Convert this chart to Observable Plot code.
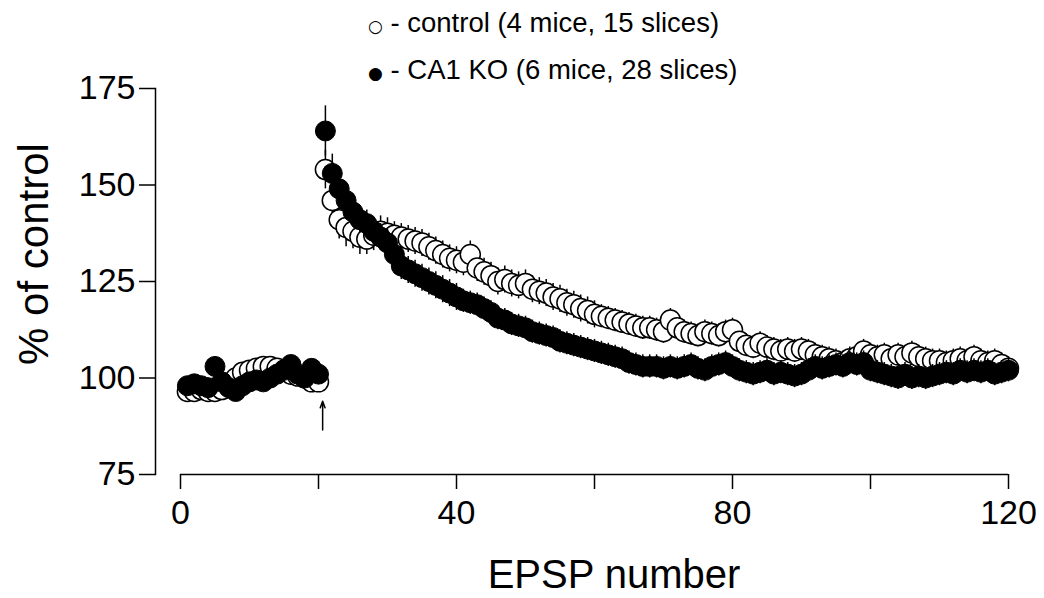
<!DOCTYPE html>
<html><head><meta charset="utf-8">
<script src="https://cdn.jsdelivr.net/npm/d3@7"></script>
<script src="https://cdn.jsdelivr.net/npm/@observablehq/plot@0.6"></script>
<style>body{margin:0;background:#fff}#chart{width:1044px;height:598px}</style>
</head><body><div id="chart"></div>
<script>
const epsp = [1,2,3,4,5,6,7,8,9,10,11,12,13,14,15,16,17,18,19,20,
  21,22,23,24,25,26,27,28,29,30,31,32,33,34,35,36,37,38,39,40,
  41,42,43,44,45,46,47,48,49,50,51,52,53,54,55,56,57,58,59,60,
  61,62,63,64,65,66,67,68,69,70,71,72,73,74,75,76,77,78,79,80,
  81,82,83,84,85,86,87,88,89,90,91,92,93,94,95,96,97,98,99,100,
  101,102,103,104,105,106,107,108,109,110,111,112,113,114,115,116,117,118,119,120];

const controlMean = [96.5,96.5,97,96.5,96.5,97,98,100,101.5,102,102.5,103,103,102.5,102,101,100.5,100,99,99,
  154,146,141,139,138,136.5,136,137,138,137.5,
  137,136.5,136,135.5,135,134,133,132,131,130.5,
  130,132,128.5,127.5,126.5,125,125.5,124.5,124,124.5,
  123,122.5,122,121,120.5,119.5,119,118,117.5,116.5,
  116,115.5,115,114.5,114,113.5,113,113,112.5,112,
  115,113,112,111.5,111,112,111.5,111,112,112.5,
  109.5,108.5,108,109,108,107.5,107,107.5,107,107.5,
  107,106,105.5,105,104.5,104,105,105.5,107,106,
  105.5,106,105,106,105.5,106.5,105.5,105,104.5,104.5,
  104,104.5,105,104.5,105.5,104.5,104,104.5,103.5,102.5];

const controlSem = [1.5,1.5,1.5,1.5,1.5,1.5,1.5,2,2,2,2,2,2,2,2,2,1.5,1.5,1.5,1.5,
  5,5,5,5,4.5,4.5,4,4,4,4,
  3.5,3.5,3.5,3.5,3.5,3.5,3.5,3.5,3.5,3.5,
  3.5,3.5,3.5,3.5,3.5,3.5,3.5,3.5,3.5,3.5,
  3.5,3.5,3.5,3.5,3.5,3.5,3.5,3.5,3.5,3.5,
  3,3,3,3,3,3,3,3,3,3,
  3,3,3,3,3,3,3,3,3,3,
  3,3,3,3,3,3,3,3,3,3,
  3,3,3,3,3,3,3,3,3,3,
  3,3,3,3,3,3,3,3,3,3,
  3,3,3,3,3,3,3,3,3,3];

const koMean = [98,98.5,98,97.5,103,99,97.5,96.5,98,99,99.5,99,100,101,102,103.5,101,100,102.5,101,
  164,153,149,146,143,141,140,138,136.5,135,
  132,129,128,127,126,125,124,123,122,121,
  120,119.5,119,118,117,115.5,115,114,113.5,113,
  112,111.5,111,110.5,109.5,109,108.5,108,107.5,107,
  106.5,106,105.5,105,104,103.5,103,103,103,102.5,
  103,102.5,103,103.5,102.5,102,103,103.5,104,103,
  102,101.5,101,101.5,102,101,101.5,101,100.5,101,
  102,103,102.5,103,103.5,103,104,103.5,104,102,
  101.5,101,100.5,100,101,100,100.5,100,100.5,101,
  101.5,101,102,101.5,102,101.5,102,101,101.5,102];

const koSem = [1.5,1.5,1.5,1.5,1.5,1.5,1.5,1.5,1.5,1.5,1.5,1.5,1.5,1.5,1.5,1.5,1.5,1.5,1.5,1.5,
  6.5,5,4.5,4,3.5,3.5,3.5,3.5,3.5,3.5,
  3.5,3.5,3.5,3.5,3.5,3.5,3.5,3.5,3.5,3.5,
  3,3,3,3,3,3,3,3,3,3,
  3,3,3,3,3,3,3,3,3,3,
  3,3,3,3,3,3,3,3,3,3,
  3,3,3,3,3,3,3,3,3,3,
  3,3,3,3,3,3,3,3,3,3,
  3,3,3,3,3,3,3,3,3,3,
  3,3,3,3,3,3,3,3,3,3,
  3,3,3,3,3,3,3,3,3,3];

const xTicks = [0,20,40,60,80,100,120];
const xTickLabels = ["0","","40","","80","","120"];
const yTicks = [75,100,125,150,175];
const seriesSymbols = ["○","●"];
const seriesLabels = [" - control (4 mice, 15 slices)", " - CA1 KO (6 mice, 28 slices)"];
const xTitle = "EPSP number";
const yTitle = "% of control";
const stimX = [20.6];
const stimY = [86.5, 94];

const control = epsp.map((x, i) => ({x, mean: controlMean[i], sem: controlSem[i]}));
const ko = epsp.map((x, i) => ({x, mean: koMean[i], sem: koSem[i]}));
const arrowData = [{x: stimX[0], y1: stimY[0], y2: stimY[1]}];

const font = "Liberation Sans, Arial, Helvetica, sans-serif";

const plot = Plot.plot({
  width: 1044, height: 598,
  marginLeft: 155, marginRight: 36, marginTop: 88, marginBottom: 124,
  x: {domain: [xTicks[0], xTicks[xTicks.length - 1]], range: [180, 1008]},
  y: {domain: [yTicks[0], yTicks[yTicks.length - 1]], range: [474, 88]},
  style: {fontFamily: font, background: "white", color: "black", overflow: "visible"},
  marks: [
    Plot.frame({anchor: "left", stroke: "black", strokeWidth: 1.5}),
    Plot.axisY(yTicks, {anchor: "left", tickSize: 16, tickPadding: 4, fontSize: 34, label: null, strokeWidth: 1.5, strokeOpacity: 1}),
    Plot.axisX(xTicks, {anchor: "bottom", tickSize: 15, tickPadding: 10, fontSize: 34, label: null,
      tickFormat: d => xTickLabels[xTicks.indexOf(d)], strokeWidth: 1.5, strokeOpacity: 1}),
    Plot.ruleY([yTicks[0]], {x1: xTicks[0], x2: xTicks[xTicks.length - 1], stroke: "black", strokeWidth: 1.5}),
    Plot.ruleX(control, {x: "x", y1: d => d.mean - d.sem, y2: d => d.mean + d.sem, stroke: "black", strokeWidth: 1.5}),
    Plot.dot(control, {x: "x", y: "mean", r: 10, fill: "white", stroke: "black", strokeWidth: 1.5}),
    Plot.ruleX(ko, {x: "x", y1: d => d.mean - d.sem, y2: d => d.mean + d.sem, stroke: "black", strokeWidth: 1.5}),
    Plot.dot(ko, {x: "x", y: "mean", r: 10, fill: "black", stroke: "black", strokeWidth: 1}),
    Plot.arrow(arrowData, {x1: "x", x2: "x", y1: "y1", y2: "y2", headLength: 7, headAngle: 40, strokeWidth: 1.5, stroke: "black"})
  ]
});

const svg = d3.select(plot);
// axis titles
svg.append("text").attr("x", 614).attr("y", 588).attr("text-anchor", "middle")
  .attr("font-family", font).attr("font-size", 40).attr("fill", "black").text(xTitle);
svg.append("text").attr("transform", "translate(48,254) rotate(-90)").attr("text-anchor", "middle")
  .attr("font-family", font).attr("font-size", 42).attr("fill", "black").text(yTitle);
// legend
const legendBaselines = [32, 79];
seriesLabels.forEach((lab, i) => {
  const t = svg.append("text").attr("x", 368).attr("y", legendBaselines[i]).attr("text-anchor", "start")
    .attr("font-family", font).attr("font-size", 27.5).attr("fill", "black");
  t.append("tspan").attr("font-size", 17).attr("font-family", "DejaVu Sans").text(seriesSymbols[i]);
  t.append("tspan").text(lab);
});

document.getElementById("chart").appendChild(plot);
</script>
</body></html>
